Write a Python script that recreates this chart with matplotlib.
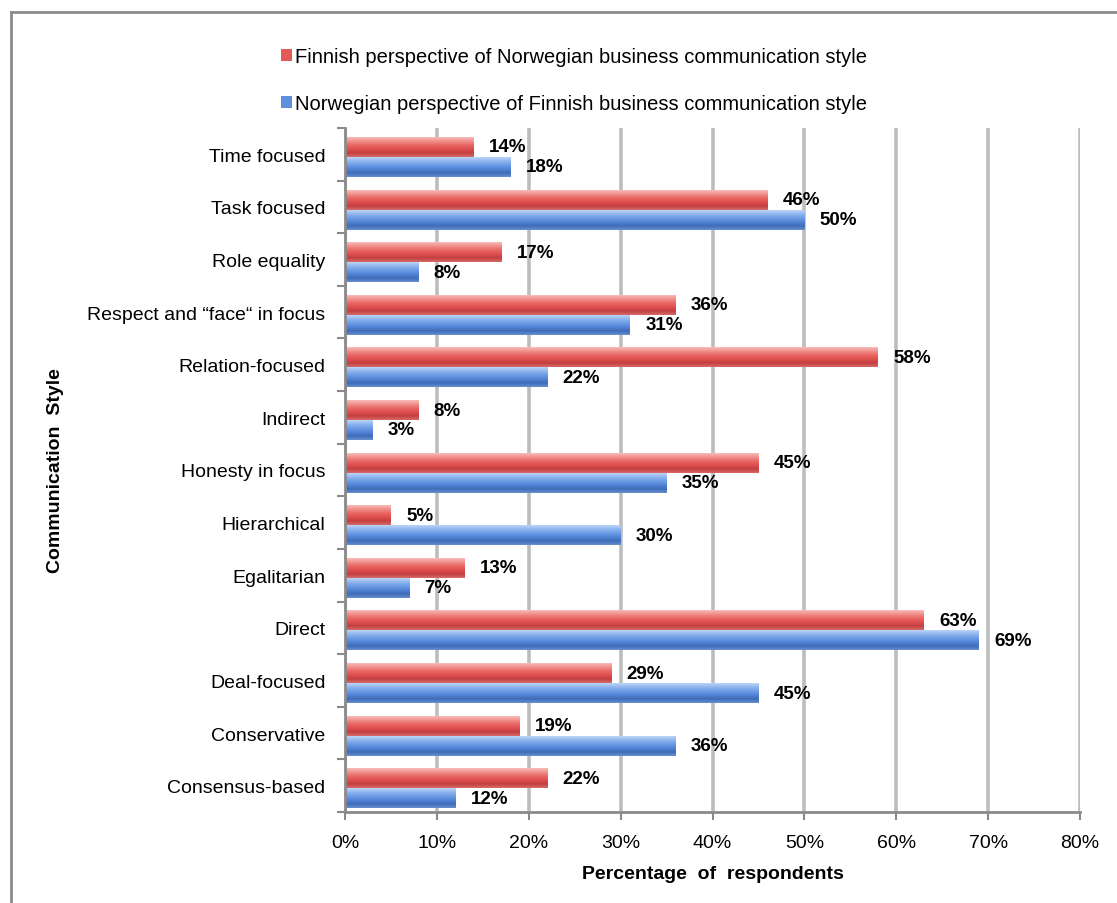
import numpy as np
import matplotlib
matplotlib.use("Agg")
import matplotlib.pyplot as plt
from matplotlib.colors import LinearSegmentedColormap
from matplotlib.patches import Patch
from matplotlib.lines import Line2D

plt.rcParams["font.family"] = ["Liberation Sans", "DejaVu Sans"]

categories = [
    "Time focused",
    "Task focused",
    "Role equality",
    "Respect and \u201cface\u201c in focus",
    "Relation-focused",
    "Indirect",
    "Honesty in focus",
    "Hierarchical",
    "Egalitarian",
    "Direct",
    "Deal-focused",
    "Conservative",
    "Consensus-based",
]
finnish_view = [14, 46, 17, 36, 58, 8, 45, 5, 13, 63, 29, 19, 22]
norwegian_view = [18, 50, 8, 31, 22, 3, 35, 30, 7, 69, 45, 36, 12]
series_names = [
    "Finnish perspective of Norwegian business communication style",
    "Norwegian perspective of Finnish business communication style",
]
x_ticks = [0, 10, 20, 30, 40, 50, 60, 70, 80]

# top-to-bottom shading so the bars look rounded
red_shades = ["#f8bcb8", "#f08f8b", "#ea6764", "#df4f4f", "#c43e40", "#d56a69"]
blue_shades = ["#bcd4f7", "#8fb5ee", "#6d9ce5", "#5285d8", "#3f6cb8", "#6890d0"]


def shaded_bar(ax, y_top, y_bottom, value, shades):
    cmap = LinearSegmentedColormap.from_list("shade", shades)
    grad = np.linspace(0, 1, 64).reshape(-1, 1)
    ax.imshow(grad, cmap=cmap, extent=(0, value, y_bottom, y_top),
              origin="upper", aspect="auto", interpolation="bilinear", zorder=3)


fig = plt.figure(figsize=(11.17, 9.04), dpi=100)
ax = fig.add_axes([0.3089, 0.1007, 0.658, 0.7566])

n = len(categories)
bar_h = 0.38
shift = 0.05
for i in range(n):
    mid = i + shift
    shaded_bar(ax, mid - bar_h, mid, finnish_view[i], red_shades)
    shaded_bar(ax, mid, mid + bar_h, norwegian_view[i], blue_shades)
    ax.annotate(f"{finnish_view[i]}%", (finnish_view[i], mid - bar_h / 2),
                xytext=(11, 0), textcoords="offset points", va="center",
                ha="left", fontsize=13.5, fontweight="bold", zorder=5)
    ax.annotate(f"{norwegian_view[i]}%", (norwegian_view[i], mid + bar_h / 2),
                xytext=(11, 0), textcoords="offset points", va="center",
                ha="left", fontsize=13.5, fontweight="bold", zorder=5)

ax.set_xlim(0, 80)
ax.set_ylim(n - 0.5, -0.5)

ax.set_xticks(x_ticks)
ax.set_xticklabels([f"{t}%" for t in x_ticks], fontsize=14)
ax.set_yticks(range(n))
ax.set_yticklabels(categories, fontsize=14)
ax.set_yticks(np.arange(-0.5, n), minor=True)
ax.tick_params(axis="y", which="major", length=0, pad=14)
ax.tick_params(axis="y", which="minor", length=6, width=1.5, color="#8a8a8a")
ax.tick_params(axis="x", length=6, width=1.5, color="#8a8a8a", pad=10)

ax.grid(axis="x", color="#bdbdbd", linewidth=2.6, zorder=0)
ax.set_axisbelow(True)
for side in ["top", "right"]:
    ax.spines[side].set_visible(False)
for side in ["left", "bottom"]:
    ax.spines[side].set_color("#8a8a8a")
    ax.spines[side].set_linewidth(2)
    ax.spines[side].set_zorder(4)

ax.set_xlabel("Percentage  of  respondents", fontsize=14, fontweight="bold")
ax.xaxis.set_label_coords(0.5, -0.078)
ax.set_ylabel("Communication  Style", fontsize=14, fontweight="bold")
ax.yaxis.set_label_coords(-0.382, 0.5)

handles = [Patch(facecolor="#e45a58", edgecolor="none"),
           Patch(facecolor="#5d8fdc", edgecolor="none")]
fig.legend(handles, series_names, loc="center", bbox_to_anchor=(0.514, 0.910),
           frameon=False, fontsize=14.5, handlelength=0.55, handleheight=0.55,
           handletextpad=0.15, labelspacing=1.4)

# outer chart frame (only top and left edges fall inside the image)
frame_color = "#8c8c8c"
fig.add_artist(Line2D([11 / 1117, 11 / 1117], [0, 1 - 13 / 904],
                      transform=fig.transFigure, color=frame_color, lw=2))
fig.add_artist(Line2D([11 / 1117, 1], [1 - 13 / 904, 1 - 13 / 904],
                      transform=fig.transFigure, color=frame_color, lw=2))

fig.savefig("out.png", dpi=100)
